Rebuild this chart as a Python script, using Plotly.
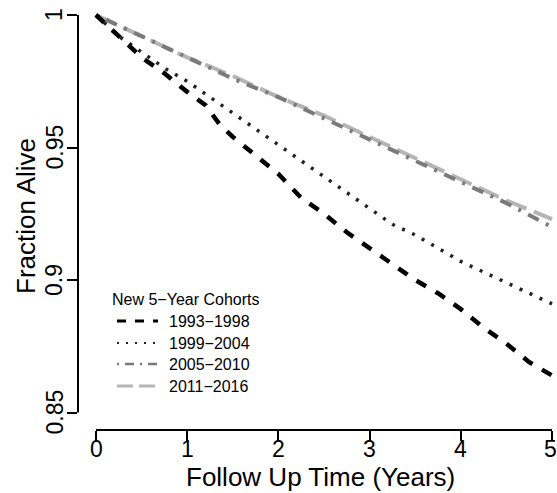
import plotly.graph_objects as go

# ---- data ----
t_9398 = [0, 0.25, 0.5, 0.75, 1.0, 1.2, 1.35, 1.5, 1.75, 2.0, 2.25, 2.5, 2.75, 3.0,
          3.25, 3.5, 3.75, 4.0, 4.25, 4.5, 4.75, 5.0]
s_9398 = [1.0, 0.992, 0.984, 0.978, 0.971, 0.966, 0.959, 0.954, 0.947, 0.940, 0.931,
          0.925, 0.918, 0.912, 0.906, 0.900, 0.895, 0.889, 0.882, 0.876, 0.869, 0.864]

t_9904 = [0, 0.25, 0.5, 0.75, 1.0, 1.25, 1.5, 1.75, 2.0, 2.25, 2.5, 2.75, 3.0, 3.25,
          3.5, 3.75, 4.0, 4.25, 4.5, 4.75, 5.0]
s_9904 = [1.0, 0.992, 0.986, 0.980, 0.975, 0.969, 0.963, 0.957, 0.951, 0.945, 0.939,
          0.933, 0.927, 0.921, 0.917, 0.912, 0.907, 0.903, 0.899, 0.895, 0.891]

t_0510 = [0, 0.25, 0.5, 0.75, 1.0, 1.5, 2.0, 2.5, 3.0, 3.5, 4.0, 4.5, 5.0]
s_0510 = [1.0, 0.996, 0.992, 0.988, 0.984, 0.976, 0.969, 0.961, 0.953, 0.945, 0.937, 0.929, 0.920]

t_1116 = [0, 0.25, 0.5, 0.75, 1.0, 1.5, 2.0, 2.5, 3.0, 3.5, 4.0, 4.5, 5.0]
s_1116 = [1.0, 0.996, 0.992, 0.988, 0.984, 0.977, 0.969, 0.962, 0.954, 0.946, 0.938, 0.930, 0.923]

cohort_labels = ["1993\u22121998", "1999\u22122004", "2005\u22122010", "2011\u22122016"]
legend_title = "New 5\u2212Year Cohorts"
x_ticks = [0, 1, 2, 3, 4, 5]
x_tick_text = ["0", "1", "2", "3", "4", "5"]
y_ticks = [0.85, 0.9, 0.95, 1.0]
y_tick_text = ["0.85", "0.9", "0.95", "1"]

# ---- styles ----
styles = [
    dict(color="#000000", width=4.5, dash="11px,11px"),
    dict(color="#222222", width=3.5, dash="3px,8px"),
    dict(color="#7a7a7a", width=4, dash="3px,8px,12px,8px"),
    dict(color="#b5b5b5", width=4, dash="22px,8px"),
]
legend_styles = [
    dict(color="#000000", width=3, dash="9px,9px"),
    dict(color="#222222", width=2, dash="2px,7px"),
    dict(color="#7a7a7a", width=2.5, dash="2px,6px,9px,6px"),
    dict(color="#b5b5b5", width=3, dash="16px,6px"),
]

FONT = "Liberation Sans, Arial, Helvetica, sans-serif"
W, H = 557, 493
L, R, T, B = 78, 557, 0, 430


def px_x(px):
    return (px - L) / (R - L)


def px_y(py):
    return (B - py) / (B - T)


fig = go.Figure()
series = [(t_9398, s_9398), (t_9904, s_9904), (t_0510, s_0510), (t_1116, s_1116)]
order = [3, 2, 1, 0]
for i in order:
    tx, sy = series[i]
    fig.add_trace(go.Scatter(x=tx, y=sy, mode="lines", line=styles[i],
                             name=cohort_labels[i], showlegend=False, hoverinfo="skip"))

# axis lines (R style, spanning tick range only)
fig.add_shape(type="line", xref="x", yref="paper", x0=x_ticks[0], x1=x_ticks[-1], y0=0, y1=0,
              line=dict(color="black", width=2))
fig.add_shape(type="line", xref="paper", yref="y", x0=0, x1=0, y0=y_ticks[0], y1=y_ticks[-1],
              line=dict(color="black", width=2))

# tick labels
for k, (v, txt) in enumerate(zip(x_ticks, x_tick_text)):
    fig.add_annotation(text=txt, xref="x", yref="paper", x=v, y=px_y(449),
                       xanchor="center", yanchor="middle", showarrow=False,
                       xshift=(-2 if k == len(x_ticks) - 1 else 0),
                       font=dict(family=FONT, size=23, color="black"))
for v, txt in zip(y_ticks, y_tick_text):
    fig.add_annotation(text=txt, xref="paper", yref="y", x=px_x(54), y=v, textangle=-90,
                       xanchor="center", yanchor="middle", showarrow=False,
                       font=dict(family=FONT, size=23, color="black"))

# axis titles
fig.add_annotation(text="Follow Up Time (Years)", xref="paper", yref="paper",
                   x=px_x(320), y=px_y(477), xanchor="center", yanchor="middle", showarrow=False,
                   font=dict(family=FONT, size=26, color="black"))
fig.add_annotation(text="Fraction Alive", xref="paper", yref="paper",
                   x=px_x(26), y=px_y(216), textangle=-90, xanchor="center", yanchor="middle",
                   showarrow=False, font=dict(family=FONT, size=26, color="black"))

# legend
fig.add_annotation(text=legend_title, xref="paper", yref="paper", x=px_x(110), y=px_y(299),
                   xanchor="left", yanchor="middle", showarrow=False,
                   font=dict(family=FONT, size=16, color="black"))
row_y = [321, 343, 364, 386]
for i, lab in enumerate(cohort_labels):
    yy = px_y(row_y[i])
    fig.add_shape(type="line", xref="paper", yref="paper", x0=px_x(117), x1=px_x(158),
                  y0=yy, y1=yy, line=legend_styles[i])
    fig.add_annotation(text=lab, xref="paper", yref="paper", x=px_x(167), y=yy,
                       xanchor="left", yanchor="middle", showarrow=False,
                       font=dict(family=FONT, size=16, color="black"))

fig.update_layout(
    width=W, height=H,
    margin=dict(l=L, r=W - R, t=T, b=H - B, pad=0),
    paper_bgcolor="white", plot_bgcolor="white",
    font=dict(family=FONT, color="black"),
    showlegend=False,
)
fig.update_xaxes(range=[(L - 96) / 91.2, (R - 96) / 91.2], showgrid=False, zeroline=False,
                 showline=False, ticks="outside", ticklen=10, tickwidth=2, tickcolor="black",
                 tickvals=x_ticks, showticklabels=False)
fig.update_yaxes(range=[1 - (B - 15) / 2650, 1 + 15 / 2650], showgrid=False, zeroline=False,
                 showline=False, ticks="outside", ticklen=10, tickwidth=2, tickcolor="black",
                 tickvals=y_ticks, showticklabels=False)

fig.write_html("out.html")
